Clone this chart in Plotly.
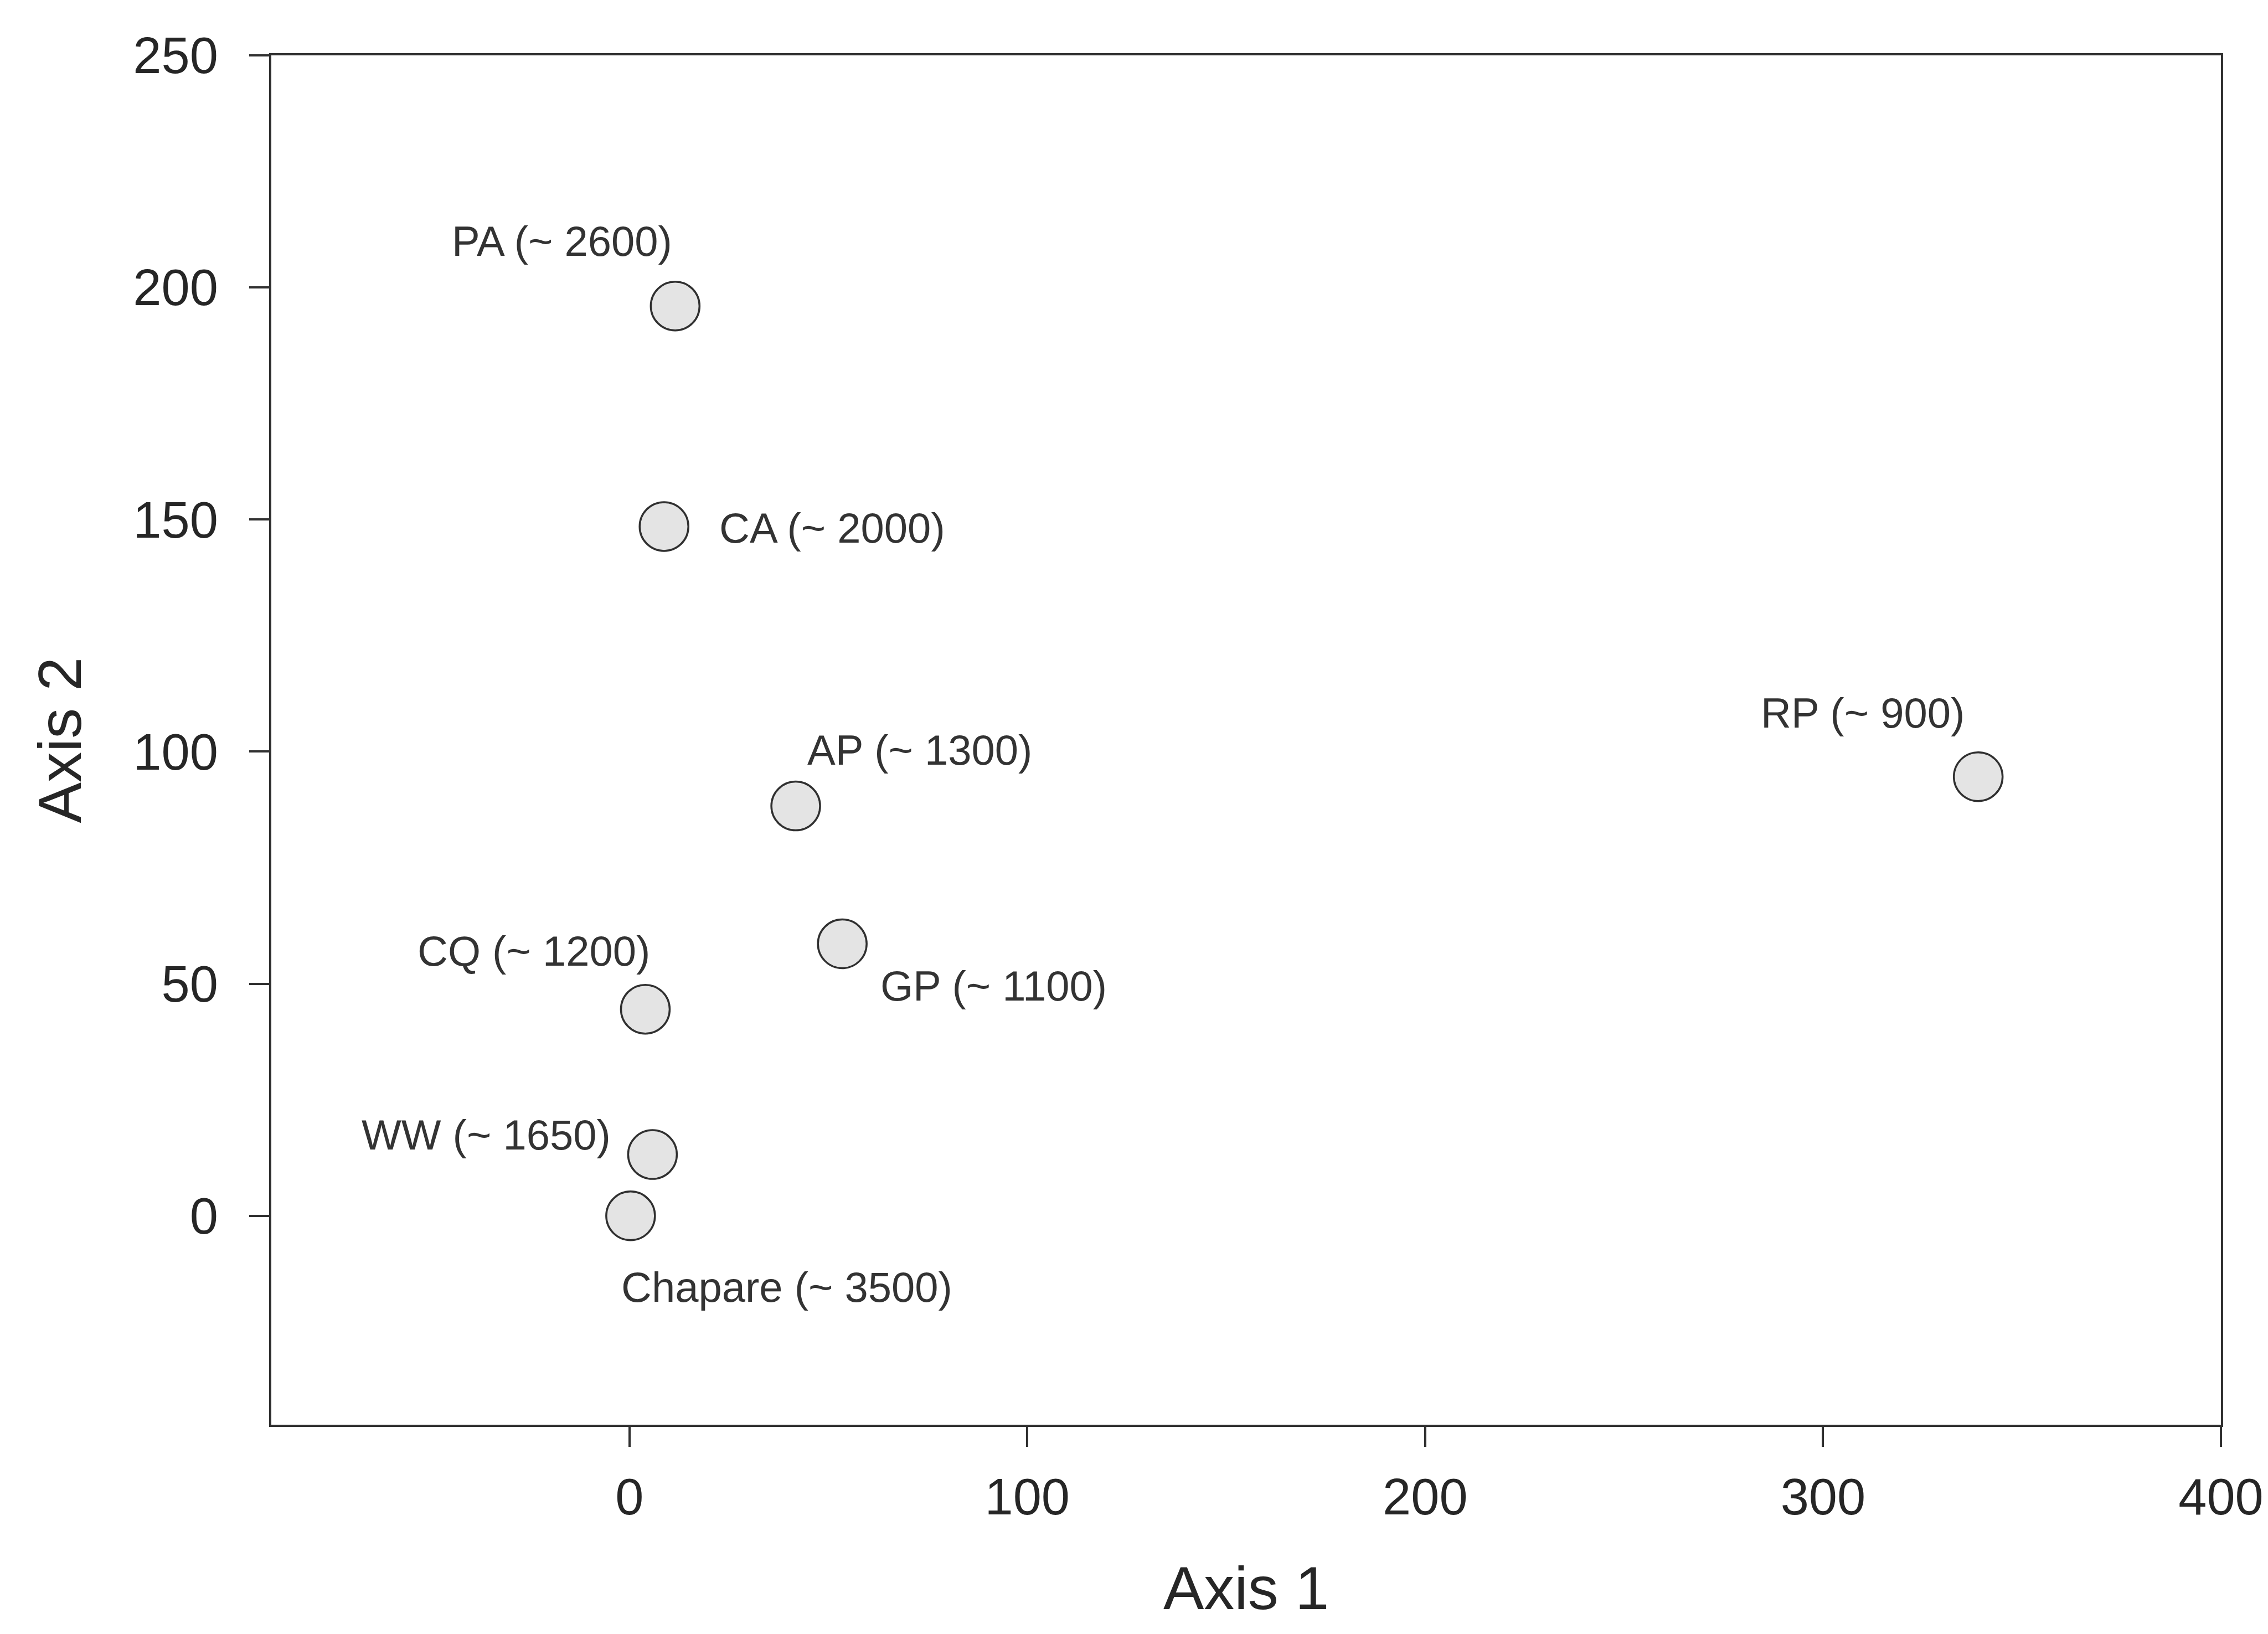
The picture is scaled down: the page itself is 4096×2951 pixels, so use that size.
import plotly.graph_objects as go

# Data
sites = ["PA", "CA", "AP", "GP", "CQ", "WW", "Chapare", "RP"]
elev = ["2600", "2000", "1300", "1100", "1200", "1650", "3500", "900"]
axis1 = [11.5, 8.7, 41.8, 53.5, 4.0, 5.8, 0.3, 339.0]
axis2 = [196.0, 148.5, 88.3, 58.6, 44.5, 13.2, 0.0, 94.6]
# label anchor positions (data units) as placed in the reference
lab_x = [-17.0, 51.0, 73.0, 91.5, -24.0, -36.0, 39.5, 310.0]
lab_y = [210.0, 148.2, 100.3, 49.5, 57.0, 17.5, -15.4, 108.4]

xticks = [0, 100, 200, 300, 400]
yticks = [0, 50, 100, 150, 200, 250]

FONT = "Liberation Sans, Arial, sans-serif"
INK = "#262626"
LINE = "#303030"

fig = go.Figure()
fig.add_trace(go.Scatter(
    x=axis1, y=axis2, mode="markers",
    marker=dict(symbol="circle", size=88, color="#e4e4e4",
                line=dict(color=LINE, width=3.5)),
    hoverinfo="skip", showlegend=False,
))

for s, e, lx, ly in zip(sites, elev, lab_x, lab_y):
    fig.add_annotation(x=lx, y=ly, xref="x", yref="y",
                       text=f"{s} (~ {e})", showarrow=False,
                       xanchor="center", yanchor="middle",
                       font=dict(family=FONT, size=76, color="#333333"))

# axis titles
fig.add_annotation(x=0.5, y=-0.119, xref="paper", yref="paper",
                   text="Axis 1", showarrow=False, xanchor="center", yanchor="middle",
                   font=dict(family=FONT, size=110, color=INK))
fig.add_annotation(x=-0.1085, y=0.5, xref="paper", yref="paper",
                   text="Axis 2", showarrow=False, textangle=-90,
                   xanchor="center", yanchor="middle",
                   font=dict(family=FONT, size=110, color=INK))

axis_common = dict(
    showline=True, linecolor=LINE, linewidth=3.5, mirror=True,
    ticks="outside", ticklen=36, tickwidth=3.5, tickcolor=LINE,
    showgrid=False, zeroline=False,
    tickfont=dict(family=FONT, size=92, color=INK),
)

fig.update_layout(
    width=4096, height=2951,
    paper_bgcolor="white", plot_bgcolor="white",
    margin=dict(l=482, r=93, t=92, b=386, autoexpand=False),
    xaxis=dict(range=[-90, 400], tickvals=xticks, ticktext=[str(v) for v in xticks],
               ticklabelstandoff=12, **axis_common),
    yaxis=dict(range=[-45, 250], tickvals=yticks, ticktext=[str(v) for v in yticks],
               ticklabelstandoff=38, **axis_common),
)

fig.write_html("out.html")
